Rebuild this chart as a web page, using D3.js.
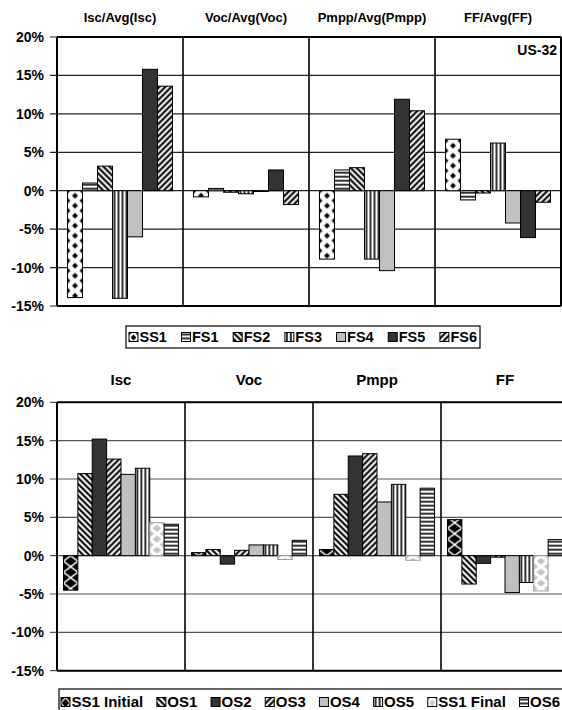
<!DOCTYPE html>
<html>
<head>
<meta charset="utf-8">
<script src="https://cdn.jsdelivr.net/npm/d3@7/dist/d3.min.js"></script>
<style>
  html, body { margin: 0; padding: 0; background: #fff; }
  svg { display: block; }
  text { font-family: "Liberation Sans", Arial, sans-serif; font-weight: bold; fill: #000; }
</style>
</head>
<body>
<svg id="chart" width="562" height="710"></svg>
<script>
// ---- Data: relative deviation (%) from the average ----
const topCategories = ["Isc/Avg(Isc)", "Voc/Avg(Voc)", "Pmpp/Avg(Pmpp)", "FF/Avg(FF)"];
const topSeries = ["SS1", "FS1", "FS2", "FS3", "FS4", "FS5", "FS6"];
const topValues = [
  [-13.9, -0.8, -8.9, 6.7],   // SS1
  [1.0, 0.3, 2.7, -1.2],      // FS1
  [3.2, -0.2, 3.0, -0.3],     // FS2
  [-14.0, -0.4, -8.9, 6.2],   // FS3
  [-6.0, -0.1, -10.4, -4.2],  // FS4
  [15.8, 2.7, 11.9, -6.1],    // FS5
  [13.6, -1.8, 10.4, -1.5]    // FS6
];
const topNote = "US-32";

const bottomCategories = ["Isc", "Voc", "Pmpp", "FF"];
const bottomSeries = ["SS1 Initial", "OS1", "OS2", "OS3", "OS4", "OS5", "SS1 Final", "OS6"];
const bottomValues = [
  [-4.5, 0.4, 0.8, 4.7],     // SS1 Initial
  [10.7, 0.8, 8.0, -3.7],    // OS1
  [15.2, -1.1, 13.0, -1.0],  // OS2
  [12.6, 0.7, 13.3, -0.2],   // OS3
  [10.6, 1.4, 7.0, -4.8],    // OS4
  [11.4, 1.4, 9.3, -3.5],    // OS5
  [4.3, -0.5, -0.6, -4.6],   // SS1 Final
  [4.1, 2.0, 8.8, 2.1]       // OS6
];

const yTicks = [-15, -10, -5, 0, 5, 10, 15, 20];

// fill style of each series
const topStyles = ["diamond", "hlines", "diagDown", "vlines", "light", "dark", "diagUp"];
const bottomStyles = ["checker", "diagDown", "dark", "diagUp", "light", "vlines", "greyDiamond", "hlines"];

const svg = d3.select("#chart");
const defs = svg.append("defs");
svg.append("rect").attr("width", 562).attr("height", 710).attr("fill", "#fff");

let patCount = 0;
// Returns a fill reference for a style, anchoring pattern tiles at (x0, y0) with tile width w
function fillFor(style, x0, y0, w) {
  if (style === "light") return "#c0c0c0";
  if (style === "dark") return "#333333";
  const id = "pat" + (patCount++);
  const p = defs.append("pattern").attr("id", id)
    .attr("patternUnits", "userSpaceOnUse").attr("x", x0).attr("y", y0);
  const white = (tw, th) => p.append("rect").attr("width", tw).attr("height", th).attr("fill", "#fff");
  if (style === "hlines") {
    p.attr("width", 8).attr("height", 4); white(8, 4);
    p.append("rect").attr("x", 0).attr("y", 1.2).attr("width", 8).attr("height", 1.6).attr("fill", "#000");
  } else if (style === "vlines") {
    p.attr("width", 4).attr("height", 8); white(4, 8);
    p.append("rect").attr("x", 1.2).attr("y", 0).attr("width", 1.6).attr("height", 8).attr("fill", "#000");
  } else if (style === "diagDown") {
    p.attr("width", 6).attr("height", 6); white(6, 6);
    p.append("path").attr("d", "M-3,-3L9,9M-3,3L3,9M3,-3L9,3")
      .attr("stroke", "#000").attr("stroke-width", 2.1);
  } else if (style === "diagUp") {
    p.attr("width", 6).attr("height", 6); white(6, 6);
    p.append("path").attr("d", "M-3,9L9,-3M-3,3L3,-3M3,9L9,3")
      .attr("stroke", "#000").attr("stroke-width", 2.1);
  } else {
    // diamond lattices: one centered column per tile, half diamonds on the edges
    let th, hx, hy, col;
    if (style === "diamond") { th = 10; hx = 2.9; hy = 3.1; col = "#000"; }
    else if (style === "checker") { th = 11; hx = w * 0.42; hy = 4.6; col = "#000"; }
    else { th = 11; hx = w * 0.3; hy = 3.4; col = "#c4c4c4"; }
    p.attr("width", w).attr("height", th);
    white(w, th);
    const pts = [[w / 2, th / 2], [0, 0], [w, 0], [0, th], [w, th]];
    pts.forEach(([cx, cy]) => {
      p.append("path")
        .attr("d", `M${cx},${cy - hy}L${cx + hx},${cy}L${cx},${cy + hy}L${cx - hx},${cy}Z`)
        .attr("fill", col);
    });
  }
  return `url(#${id})`;
}

function drawPanelChart(cfg) {
  const g = svg.append("g");
  const x = d3.scaleBand().domain(cfg.categories).range([cfg.left, cfg.right]);
  const xs = d3.scaleBand().domain(d3.range(cfg.series.length))
    .range([0, x.bandwidth()]).paddingOuter(cfg.outerPad);
  const y = d3.scaleLinear().domain([-15, 20]).range([cfg.bottom, cfg.top]);

  // horizontal gridlines with outward tick marks
  g.append("g").selectAll("line").data(yTicks).join("line")
    .attr("x1", cfg.left - 7).attr("x2", cfg.right)
    .attr("y1", d => y(d)).attr("y2", d => y(d))
    .attr("stroke", cfg.gridColor).attr("stroke-width", 1.2);

  // separators between categories
  g.append("g").selectAll("line").data(cfg.categories.slice(1)).join("line")
    .attr("x1", d => x(d)).attr("x2", d => x(d))
    .attr("y1", cfg.top).attr("y2", cfg.bottom)
    .attr("stroke", "#000").attr("stroke-width", 1.6);

  // bars
  const bw = xs.bandwidth();
  cfg.series.forEach((s, si) => {
    cfg.categories.forEach((c, ci) => {
      const v = cfg.values[si][ci];
      const bx = x(c) + xs(si);
      const fill = fillFor(cfg.styles[si], bx, y(0), bw);
      g.append("rect")
        .attr("x", bx).attr("width", bw)
        .attr("y", y(Math.max(0, v)))
        .attr("height", Math.abs(y(v) - y(0)))
        .attr("fill", fill)
        .attr("stroke", cfg.styles[si] === "greyDiamond" ? "#a0a0a0" : "#000")
        .attr("stroke-width", 1);
    });
  });

  // plot frame and left axis
  const frame = (x1, y1, x2, y2) => g.append("line")
    .attr("x1", x1).attr("y1", y1).attr("x2", x2).attr("y2", y2)
    .attr("stroke", "#000").attr("stroke-width", 2);
  frame(cfg.left, cfg.top, cfg.right, cfg.top);
  frame(cfg.left, cfg.bottom, cfg.right, cfg.bottom);
  frame(cfg.left, cfg.top, cfg.left, cfg.bottom);
  if (cfg.rightBorder) frame(cfg.right, cfg.top, cfg.right, cfg.bottom);

  // y tick labels
  g.append("g").selectAll("text").data(yTicks).join("text")
    .attr("x", 44).attr("y", d => y(d)).attr("dy", "0.36em")
    .attr("text-anchor", "end").style("font-size", "14px")
    .text(d => d + "%");

  // category titles
  g.append("g").selectAll("text").data(cfg.categories).join("text")
    .attr("x", d => x(d) + x.bandwidth() / 2).attr("y", cfg.titleY).attr("dy", "0.36em")
    .attr("text-anchor", "middle").style("font-size", cfg.titleSize)
    .text(d => d);

  // legend
  const L = cfg.legend;
  g.append("rect").attr("x", L.x).attr("y", L.y).attr("width", L.w).attr("height", L.h)
    .attr("fill", "#fff").attr("stroke", "#000").attr("stroke-width", 1.2);
  const items = g.append("g");
  const texts = cfg.series.map(s => items.append("text").style("font-size", L.fontSize)
    .attr("y", L.textY).attr("dy", "0.36em").text(s));
  const widths = texts.map(t => t.node().getComputedTextLength());
  const sw = 9, sgap = 1.5;
  const content = d3.sum(widths) + cfg.series.length * (sw + sgap);
  const spacing = (L.end - L.start - content) / (cfg.series.length - 1);
  let cx = L.start;
  cfg.series.forEach((s, si) => {
    const sy = L.textY - sw / 2;
    items.append("rect").attr("x", cx).attr("y", sy).attr("width", sw).attr("height", sw)
      .attr("fill", fillFor(cfg.styles[si], cx, sy, sw))
      .attr("stroke", "#000").attr("stroke-width", 1);
    texts[si].attr("x", cx + sw + sgap);
    cx += sw + sgap + widths[si] + spacing;
  });
}

drawPanelChart({
  categories: topCategories, series: topSeries, values: topValues, styles: topStyles,
  left: 57, right: 561, top: 37, bottom: 306, outerPad: 0.7,
  gridColor: "#222", rightBorder: true, titleY: 17, titleSize: "13px",
  legend: { x: 126, y: 326, w: 354, h: 22, textY: 337, start: 129, end: 477, fontSize: "14.5px" }
});

svg.append("text").attr("x", 557).attr("y", 50).attr("dy", "0.36em")
  .attr("text-anchor", "end").style("font-size", "14px").text(topNote);

drawPanelChart({
  categories: bottomCategories, series: bottomSeries, values: bottomValues, styles: bottomStyles,
  left: 57, right: 569, top: 402.3, bottom: 670.7, outerPad: 0.45,
  gridColor: "#555", rightBorder: false, titleY: 380, titleSize: "15px",
  legend: { x: 59, y: 689, w: 530, h: 30, textY: 702, start: 61, end: 560, fontSize: "15px" }
});
</script>
</body>
</html>
